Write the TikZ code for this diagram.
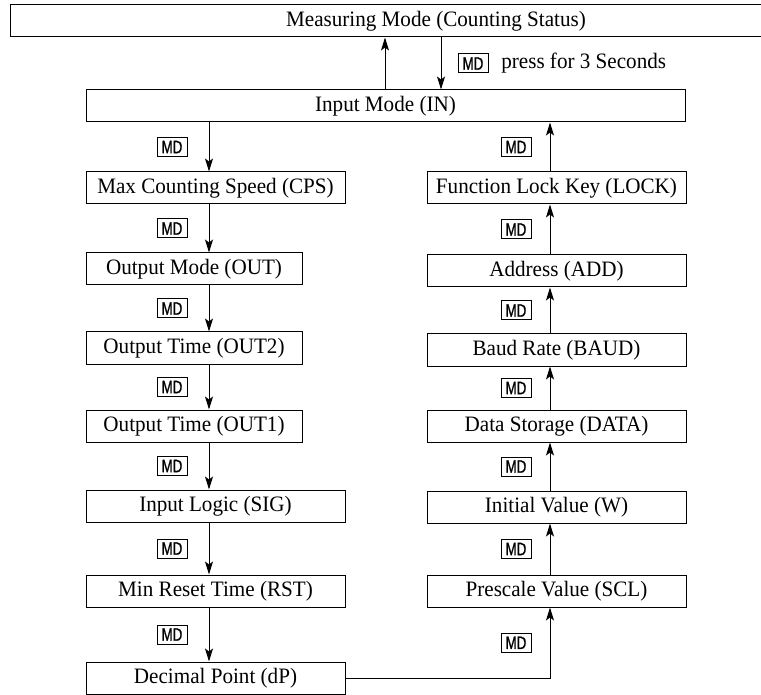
\documentclass[tikz,border=0pt]{standalone}
\usepackage{fontspec}
\setmainfont[FakeStretch=0.96]{Liberation Serif}
\newfontfamily\mdfont[FakeStretch=0.74,FakeBold=1]{Liberation Sans}
\usetikzlibrary{arrows.meta,positioning}

\begin{document}
\begin{tikzpicture}[x=1pt,y=-1pt,line width=1pt,
  every node/.style={font=\fontsize{22}{25}\selectfont},
  box/.style={draw,rectangle,inner sep=0pt,minimum height=32pt},
  wide/.style={box,minimum width=259pt},
  narrow/.style={box,minimum width=216pt},
  mdkey/.style={draw,rectangle,inner sep=0pt,minimum width=30pt,minimum height=19pt,font=\mdfont\fontsize{18}{18}\selectfont},
  arr/.style={-{Stealth[length=13pt,width=8pt,inset=3pt]}}]
\useasboundingbox (0,0) rectangle (761,695);
\node[box,minimum width=852pt] (meas) at (436,21) {Measuring Mode (Counting Status)};
\node[box,minimum width=599pt] (inmode) at (385.5,106) {Input Mode (IN)};
\coordinate (ux) at (385,0);
\coordinate (dx) at (441,0);
\coordinate (lx) at (209,0);
\coordinate (rx) at (550,0);
% left column
\node[wide] (cps) at (215.5,188) {Max Counting Speed (CPS)};
\node[narrow] (out) at (194,269) {Output Mode (OUT)};
\node[narrow] (outii) at (194,348) {Output Time (OUT2)};
\node[narrow] (outi) at (194,426) {Output Time (OUT1)};
\node[wide] (sig) at (215.5,506) {Input Logic (SIG)};
\node[wide] (rst) at (215.5,591) {Min Reset Time (RST)};
\node[wide] (dp) at (215.5,678) {Decimal Point (dP)};
% right column
\node[wide] (lock) at (556.5,188) {Function Lock Key (LOCK)};
\node[wide] (add) at (556.5,271) {Address (ADD)};
\node[wide] (baud) at (556.5,350) {Baud Rate (BAUD)};
\node[wide] (data) at (556.5,426) {Data Storage (DATA)};
\node[wide] (init) at (556.5,507) {Initial Value (W)};
\node[wide] (scl) at (556.5,591) {Prescale Value (SCL)};
% arrows
\draw[arr] (ux |- inmode.north) -- (ux |- meas.south);
\draw[arr] (dx |- meas.south) -- node[mdkey,xshift=32pt] (mdtop) {MD} (dx |- inmode.north);
\node[right=9pt of mdtop] (hold) {press for 3 Seconds};
\foreach \a/\b in {inmode/cps,cps/out,out/outii,outii/outi,outi/sig,sig/rst,rst/dp}
  \draw[arr] (lx |- \a.south) -- node[mdkey,xshift=-37pt] (md\b) {MD} (lx |- \b.north);
\foreach \a/\b in {scl/init,init/data,data/baud,baud/add,add/lock,lock/inmode}
  \draw[arr] (rx |- \a.north) -- node[mdkey,xshift=-34pt] (md\a) {MD} (rx |- \b.south);
\draw[arr] (dp.east) -| node[mdkey,pos=0.75,xshift=-34pt] (mddp) {MD} (rx |- scl.south);
\end{tikzpicture}
\end{document}
